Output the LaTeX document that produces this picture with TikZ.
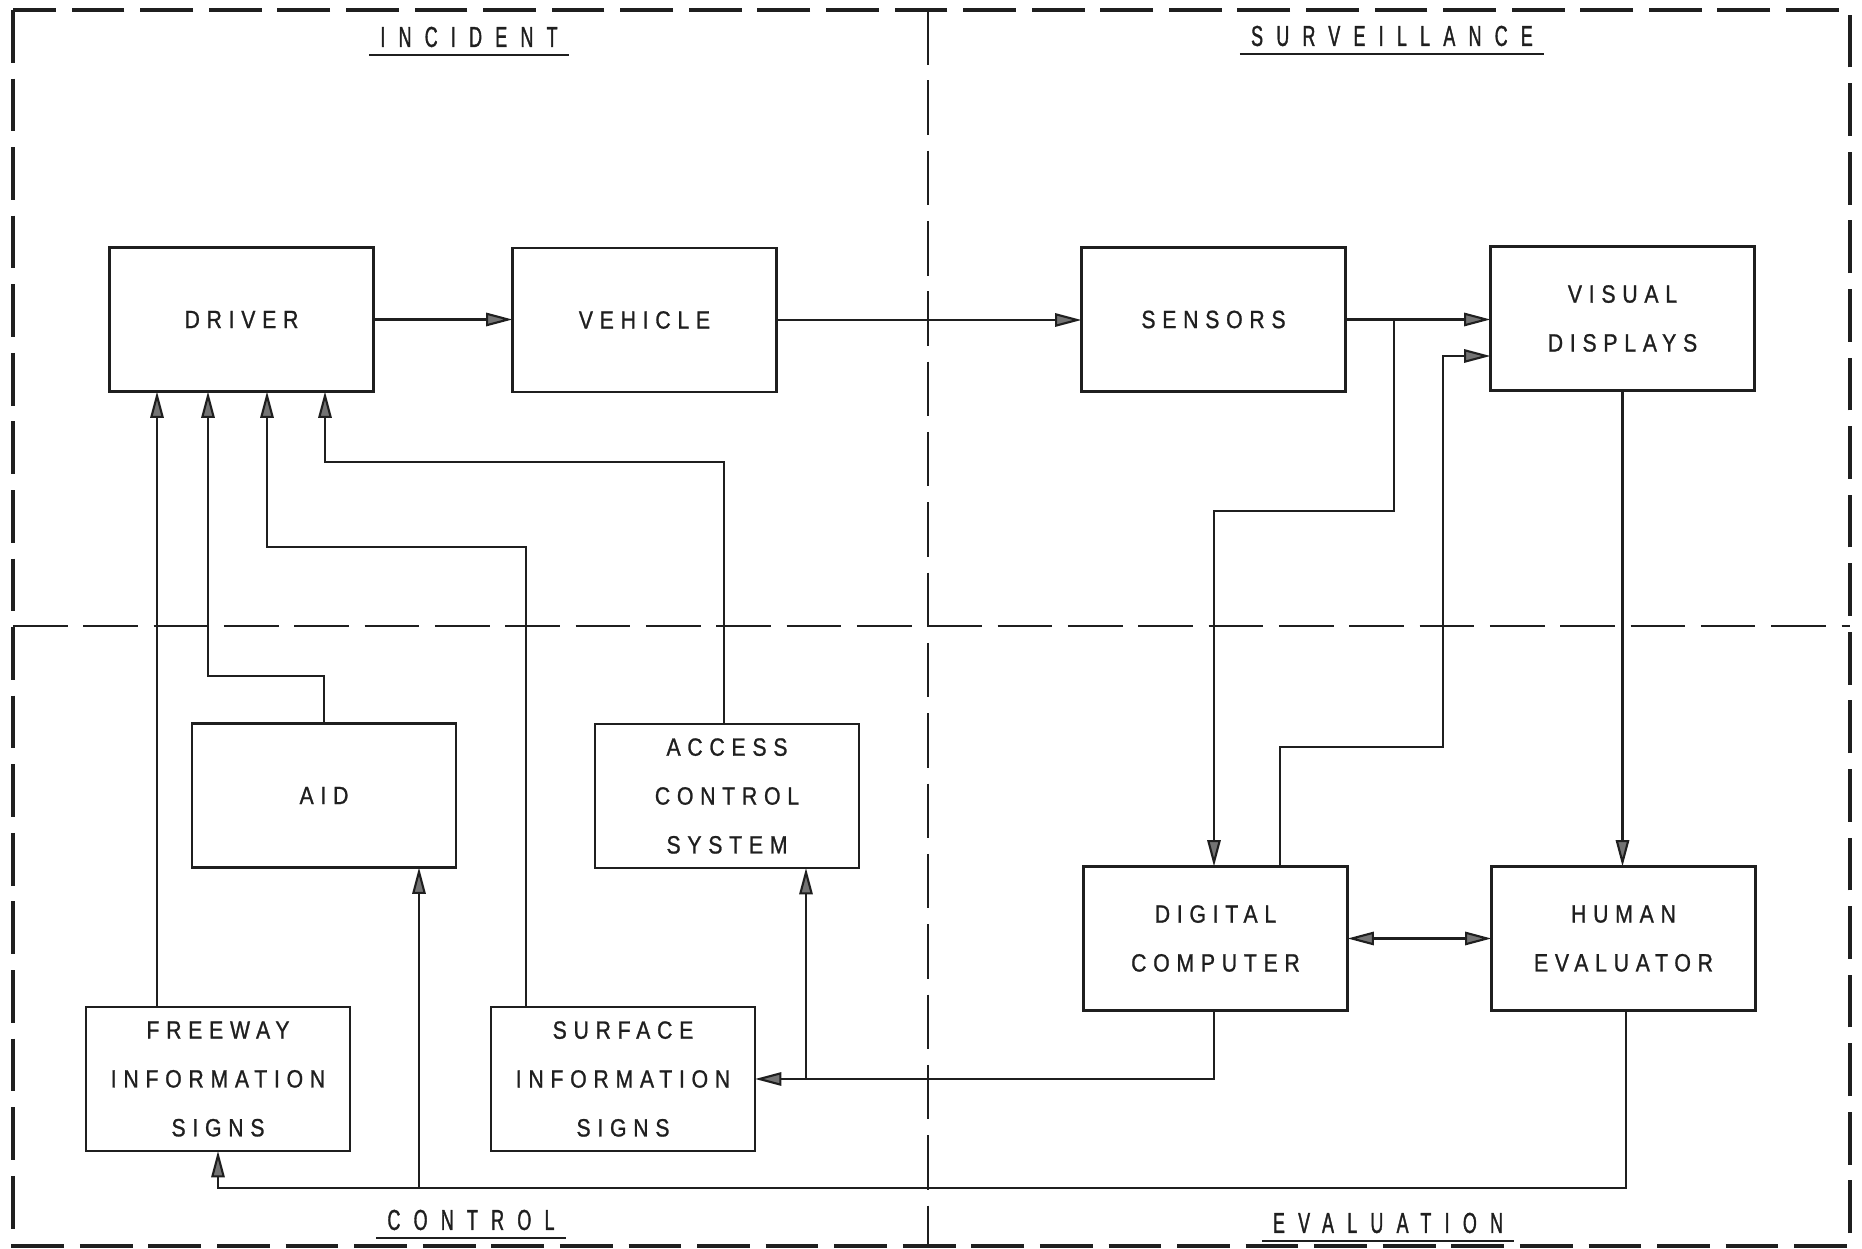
\documentclass[tikz,border=0pt]{standalone}
\usepackage{fontspec}
\usetikzlibrary{arrows.meta,calc}
\newfontfamily\lab[FakeStretch=0.85,LetterSpace=27,FakeBold=1]{Liberation Sans}
\newfontfamily\ttl[FakeStretch=0.62,LetterSpace=46,FakeBold=1.2]{Liberation Sans}
\definecolor{ink}{gray}{0.12}
\tikzset{
  blk/.style={draw=ink, line width=0.75pt, minimum width=2.64cm, minimum height=1.44cm,
    inner sep=0pt, outer sep=0pt, align=center, text=ink,
    font=\lab\fontsize{7.1}{13.9}\selectfont},
  ttlnode/.style={inner xsep=3pt, inner ysep=2pt, text=ink, font=\ttl\fontsize{8.2}{10}\selectfont},
  uline/.style={draw=ink, line width=0.8pt},
  frameline/.style={draw=ink, line width=1pt, dash pattern=on 15pt off 4.5pt},
  divline/.style={draw=ink, line width=0.85pt, dash pattern=on 15.5pt off 4.5pt},
  arr/.style={draw=ink, line width=0.6pt, -{Triangle[length=7.5pt,width=3.8pt,fill=black!55]}},
  arrr/.style={draw=ink, line width=0.6pt, {Triangle[length=7.5pt,width=3.8pt,fill=black!55]}-{Triangle[length=7.5pt,width=3.8pt,fill=black!55]}},
}
\begin{document}
\begin{tikzpicture}[x=0.01cm,y=-0.01cm]
\useasboundingbox (0,0) rectangle (1862,1249);
% frame and dividers
\draw[frameline] (13,10) rectangle (1850,1246);
\draw[divline] (928,10) -- (928,1246);
\draw[divline] (13,626) -- (1850,626);
% titles
\node[ttlnode] (tinc) at (469,37) {INCIDENT};
\node[ttlnode] (tsur) at (1392,36) {SURVEILLANCE};
\node[ttlnode] (tcon) at (471,1220) {CONTROL};
\node[ttlnode] (teva) at (1388,1223) {EVALUATION};
\foreach \t in {tinc,tsur,tcon,teva} \draw[uline] (\t.south west) -- (\t.south east);
% blocks
\node[blk] (driver)   at (241.5,319.5) {DRIVER};
\node[blk] (vehicle)  at (644.5,320) {VEHICLE};
\node[blk] (sensors)  at (1213.5,319.5) {SENSORS};
\node[blk] (visual)   at (1622.5,318.5) {VISUAL\\DISPLAYS};
\node[blk] (aid)      at (324,795.5) {AID};
\node[blk] (access)   at (727,796) {ACCESS\\CONTROL\\SYSTEM};
\node[blk] (freeway)  at (218,1079) {FREEWAY\\INFORMATION\\SIGNS};
\node[blk] (surface)  at (623,1079) {SURFACE\\INFORMATION\\SIGNS};
\node[blk] (dc)       at (1215.5,938.5) {DIGITAL\\COMPUTER};
\node[blk] (he)       at (1623.5,938.5) {HUMAN\\EVALUATOR};
% connectors
\draw[arr] (driver.east) -- (vehicle.west |- driver.east);
\draw[arr] (vehicle.east) -- (sensors.west |- vehicle.east);
\draw[arr] (sensors.east) -- (visual.west |- sensors.east);
\draw[arr] (sensors.east -| 1394,0) |- (1214,511) -- (dc.north -| 1214,0);
\draw[arr] (dc.north -| 1280,0) |- (1443,747) |- (visual.west |- 0,356);
\draw[arr] (visual.south) -- (visual.south |- he.north);
\draw[arrr] (dc.east) -- (he.west);
\draw[arr] (dc.south -| 1214,0) |- (surface.east);
\coordinate (j1) at (806,1079);
\draw[arr] (j1) -- (access.south -| j1);
\draw[arr] (he.south -| 1626,0) |- (218,1188) -- (freeway.south);
\coordinate (j2) at (419,1188);
\draw[arr] (j2) -- (aid.south -| j2);
\draw[arr] (freeway.north -| 157,0) -- (driver.south -| 157,0);
\draw[arr] (aid.north) |- (208,676) -- (driver.south -| 208,0);
\draw[arr] (surface.north -| 526,0) |- (267,547) -- (driver.south -| 267,0);
\draw[arr] (access.north -| 724,0) |- (325,462) -- (driver.south -| 325,0);
\end{tikzpicture}
\end{document}
